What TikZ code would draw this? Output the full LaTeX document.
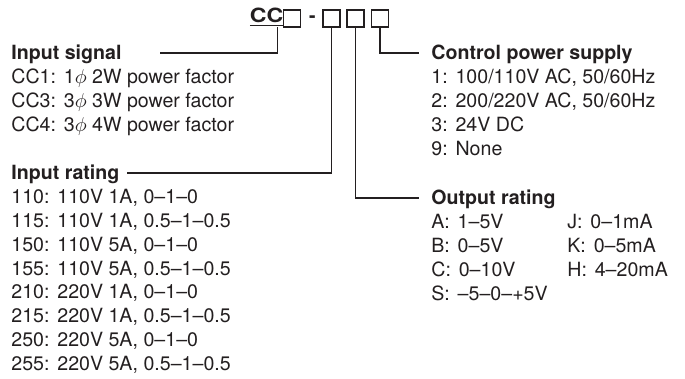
\documentclass[tikz,border=0pt]{standalone}
\usepackage{fontspec}
\usepackage{graphicx}
\setmainfont{TeX Gyre Heros}
\usetikzlibrary{positioning}
\definecolor{ink}{RGB}{35,31,32}
\AtBeginDocument{\fontsize{9.8}{11.9}\selectfont}
\newcommand{\tabgap}{\hspace{0.4em}}

\tikzset{
  title/.style={font=\bfseries, anchor=base west, inner sep=0pt},
  head/.style={font=\bfseries, anchor=base west, inner sep=0pt},
  item/.style={anchor=base west, inner sep=0pt},
  digit/.style={draw, minimum size=8.5pt, inner sep=0pt, line width=0.55pt},
  lead/.style={line width=0.6pt}
}

\begin{document}
\begin{tikzpicture}[x=0.5pt,y=-0.5pt,color=ink]
\useasboundingbox (0,0) rectangle (685,379);
% model code
\node[title] (cc) at (249.5,22.5) {\scalebox{1.18}[1]{\underline{CC}}};
\node[digit] (d1) at (292,18.5) {};
\node[title,anchor=base] (dash) at (312.5,23) {-};
\node[digit] (d2) at (331.5,18.5) {};
\node[digit] (d3) at (355.5,18.5) {};
\node[digit] (d4) at (380,18.5) {};
% input signal
\node[head] (signal) at (11,60) {Input signal};
\foreach \t [count=\i] in {CC1:\tabgap 1$\phi$ 2W power factor,
  CC3:\tabgap 3$\phi$ 3W power factor, CC4:\tabgap 3$\phi$ 4W power factor}
  \node[item] (sig\i) at (11,{60+23.8*\i}) {\t};
% input rating
\node[head] (rating) at (11,180) {Input rating};
\foreach \t [count=\i] in {{110:\tabgap 110V 1A, 0–1–0},{115:\tabgap 110V 1A, 0.5–1–0.5},
  {150:\tabgap 110V 5A, 0–1–0},{155:\tabgap 110V 5A, 0.5–1–0.5},{210:\tabgap 220V 1A, 0–1–0},
  {215:\tabgap 220V 1A, 0.5–1–0.5},{250:\tabgap 220V 5A, 0–1–0},{255:\tabgap 220V 5A, 0.5–1–0.5}}
  \node[item] (rat\i) at (11,{180+23.8*\i}) {\t};
% control power supply
\node[head] (power) at (431,60) {Control power supply};
\foreach \t [count=\i] in {{1:\tabgap 100/110V AC, 50/60Hz},{2:\tabgap 200/220V AC, 50/60Hz},
  {3:\tabgap 24V DC},{9:\tabgap None}}
  \node[item] (pow\i) at (431,{60+23.8*\i}) {\t};
% output rating
\node[head] (output) at (431,205) {Output rating};
\foreach \a/\b [count=\i] in {A:\tabgap 1–5V/J:\tabgap 0–1mA, B:\tabgap 0–5V/K:\tabgap 0–5mA,
  C:\tabgap 0–10V/H:\tabgap 4–20mA, S:\tabgap –5–0–+5V/}
{
  \node[item] (outa\i) at (431,{205+23.8*\i}) {\a};
  \node[item] (outb\i) at (567,{205+23.8*\i}) {\b};
}
% leaders
\coordinate (sigend) at (160,53);
\draw[lead] ([xshift=5.5pt]cc.south) |- (sigend);
\draw[lead] (d2.south) |- ([xshift=3.5pt,yshift=3.5pt]rating.base east);
\draw[lead] (d3.south) |- ([xshift=-6pt,yshift=3.5pt]output.base west);
\draw[lead] (d4.south) |- ([xshift=-6pt,yshift=3.5pt]power.base west);
\end{tikzpicture}
\end{document}
